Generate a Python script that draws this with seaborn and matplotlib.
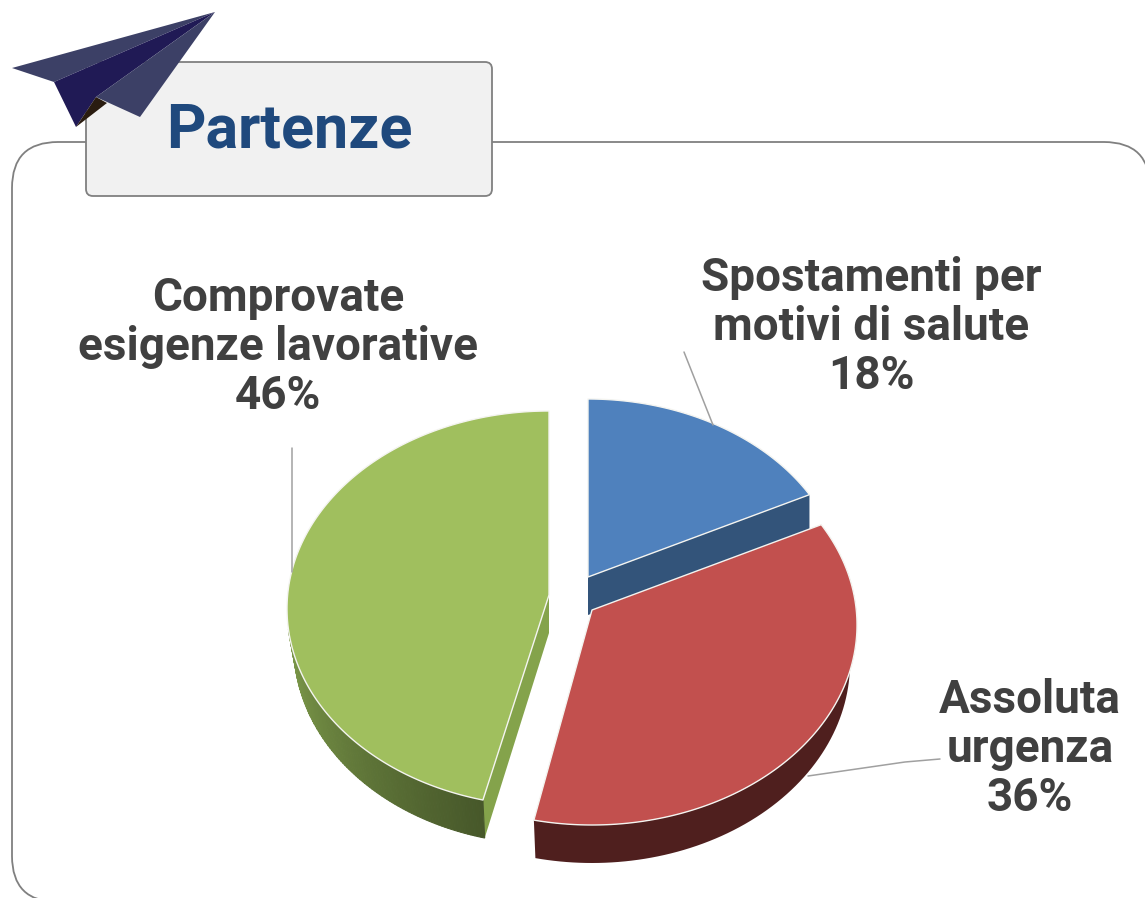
import numpy as np
import matplotlib
matplotlib.use("Agg")
import matplotlib.pyplot as plt
from matplotlib.colors import to_rgb
from matplotlib.patches import FancyBboxPatch, PathPatch, Polygon
from matplotlib.path import Path
import seaborn as sns

# ---- data ----
title = "Partenze"
categories = ["Spostamenti per\nmotivi di salute", "Assoluta\nurgenza", "Comprovate\nesigenze lavorative"]
values = [18, 36, 46]
top_colors = ["#4f81bd", "#c2504e", "#a0bf5e"]
side_colors = ["#33547a", "#4f1f1e", "#84a34b"]

sns.set_theme(style="white")
palette = sns.color_palette(top_colors)
FONT = "Roboto"
TXT = "#404040"

fig = plt.figure(figsize=(11.45, 8.98), dpi=100)
ax = fig.add_axes([0, 0, 1, 1])
ax.set_xlim(0, 1145)
ax.set_ylim(898, 0)
ax.axis("off")

# frame (open at the bottom right, where it leaves the picture) + title box
frame_verts = [(58, 902), (12, 902), (12, 856), (12, 188), (12, 142), (58, 142),
               (1104, 142), (1150, 142), (1150, 188)]
frame_codes = [Path.MOVETO, Path.CURVE3, Path.CURVE3, Path.LINETO, Path.CURVE3, Path.CURVE3,
               Path.LINETO, Path.CURVE3, Path.CURVE3]
ax.add_patch(PathPatch(Path(frame_verts, frame_codes), fc="none", ec="#808080", lw=1.3, zorder=1))
ax.add_patch(FancyBboxPatch((86, 62), 406, 134, boxstyle="round,pad=0,rounding_size=7",
                            fc="#f1f1f1", ec="#808080", lw=1.3, zorder=2))
ax.text(289.5, 131, title, color="#1f497d", fontsize=44, fontweight="bold", family=FONT,
        ha="center", va="center", zorder=3)

# paper plane
plane = [([(215, 12), (12, 68), (54, 82)], "#3c4066"),
         ([(215, 12), (54, 82), (76, 127), (96, 97)], "#201a55"),
         ([(96, 97), (76, 127), (107, 103)], "#2a1c10"),
         ([(215, 12), (96, 97), (140, 117)], "#3c4066")]
for pts, col in plane:
    ax.add_patch(Polygon(pts, closed=True, fc=col, ec="none", zorder=4))

# exploded pseudo-3D pie layout: apex x, apex y, a, b, ellipse y-offset, front rotation
geom = [(588, 577, 256, 192, 14, 0), (592, 610, 265, 200, 15, 1.4), (549, 595, 262, 197.7, 13.7, -0.6)]
DEPTH = 38
SHRINK = 7


def rim(g, t, drop=0, shrink=0):
    ax0, ay0, a, b, c, rot = g
    t = np.asarray(t, float)
    tr = np.radians(t)
    w = t + 6 * np.cos(tr) ** 2 + rot * np.clip(-np.sin(tr), 0, None)
    r = np.radians(w)
    return ax0 + (a - shrink) * np.cos(r), ay0 + c - b * np.sin(r) + drop


cum = np.cumsum([0] + values) / sum(values) * 360
starts = 90 - cum[:-1]
ends = 90 - cum[1:]


def lerp(c1, c2, f):
    c1, c2 = np.array(to_rgb(c1)), np.array(to_rgb(c2))
    return c1 + (c2 - c1) * f


# cut-edge sides and outer sides (back to front)
order = {0: 0, 2: 1, 1: 2}
for i in [0, 2, 1]:
    g = geom[i]
    ax0, ay0 = g[0], g[1]
    t0, t1 = starts[i], ends[i]
    z = 5 + order[i] * 3
    if i == 0:
        xe, ye = rim(g, t1)
        ax.fill([ax0, xe, xe, ax0], [ay0, ye, ye + DEPTH, ay0 + DEPTH], color=side_colors[0], lw=0, zorder=z)
    if i == 2:
        xe, ye = rim(g, t0)
        xb, yb = rim(g, t0, DEPTH, SHRINK)
        ax.fill([ax0, xe, xb, ax0], [ay0, ye, yb, ay0 + DEPTH], color=side_colors[2], lw=0, zorder=z)
        tt = np.linspace(-180, t0, 90)
        for k in range(len(tt) - 1):
            seg = np.linspace(tt[k], tt[k + 1], 3)
            xa, ya = rim(g, seg)
            xc, yc = rim(g, seg[::-1], DEPTH, SHRINK)
            col = lerp("#7d9a4a", "#47582a", k / (len(tt) - 2))
            ax.fill(np.r_[xa, xc], np.r_[ya, yc], facecolor=col, edgecolor=col, lw=0.8, zorder=z)
    if i == 1:
        tt = np.linspace(10, t1, 80)
        xa, ya = rim(g, tt)
        xc, yc = rim(g, tt[::-1], DEPTH, SHRINK)
        ax.fill(np.r_[xa, xc], np.r_[ya, yc], color=side_colors[1], lw=0, zorder=z)

# top faces
for i in [0, 2, 1]:
    g = geom[i]
    tt = np.linspace(starts[i], ends[i], 160)
    x, y = rim(g, tt)
    ax.fill(np.r_[g[0], x], np.r_[g[1], y], facecolor=palette[i], edgecolor="#f4f4f0", lw=1.0,
            joinstyle="round", zorder=6 + order[i] * 3)

# leader lines
leaders = [([684, 713], [352, 425]), ([940, 905, 808], [759, 762, 776]), ([292, 292], [448, 572])]
for lx, ly in leaders:
    ax.plot(lx, ly, color="#a0a0a0", lw=1.1, zorder=20)

# labels
label_pos = [(871, 327), (1030, 749), (278, 347)]
for cat, val, (lx, ly) in zip(categories, values, label_pos):
    ax.text(lx, ly, f"{cat}\n{val}%", color=TXT, fontsize=33, fontweight="bold", family=FONT,
            ha="center", va="center", linespacing=1.13, zorder=21)

fig.savefig("out.png", dpi=100)
